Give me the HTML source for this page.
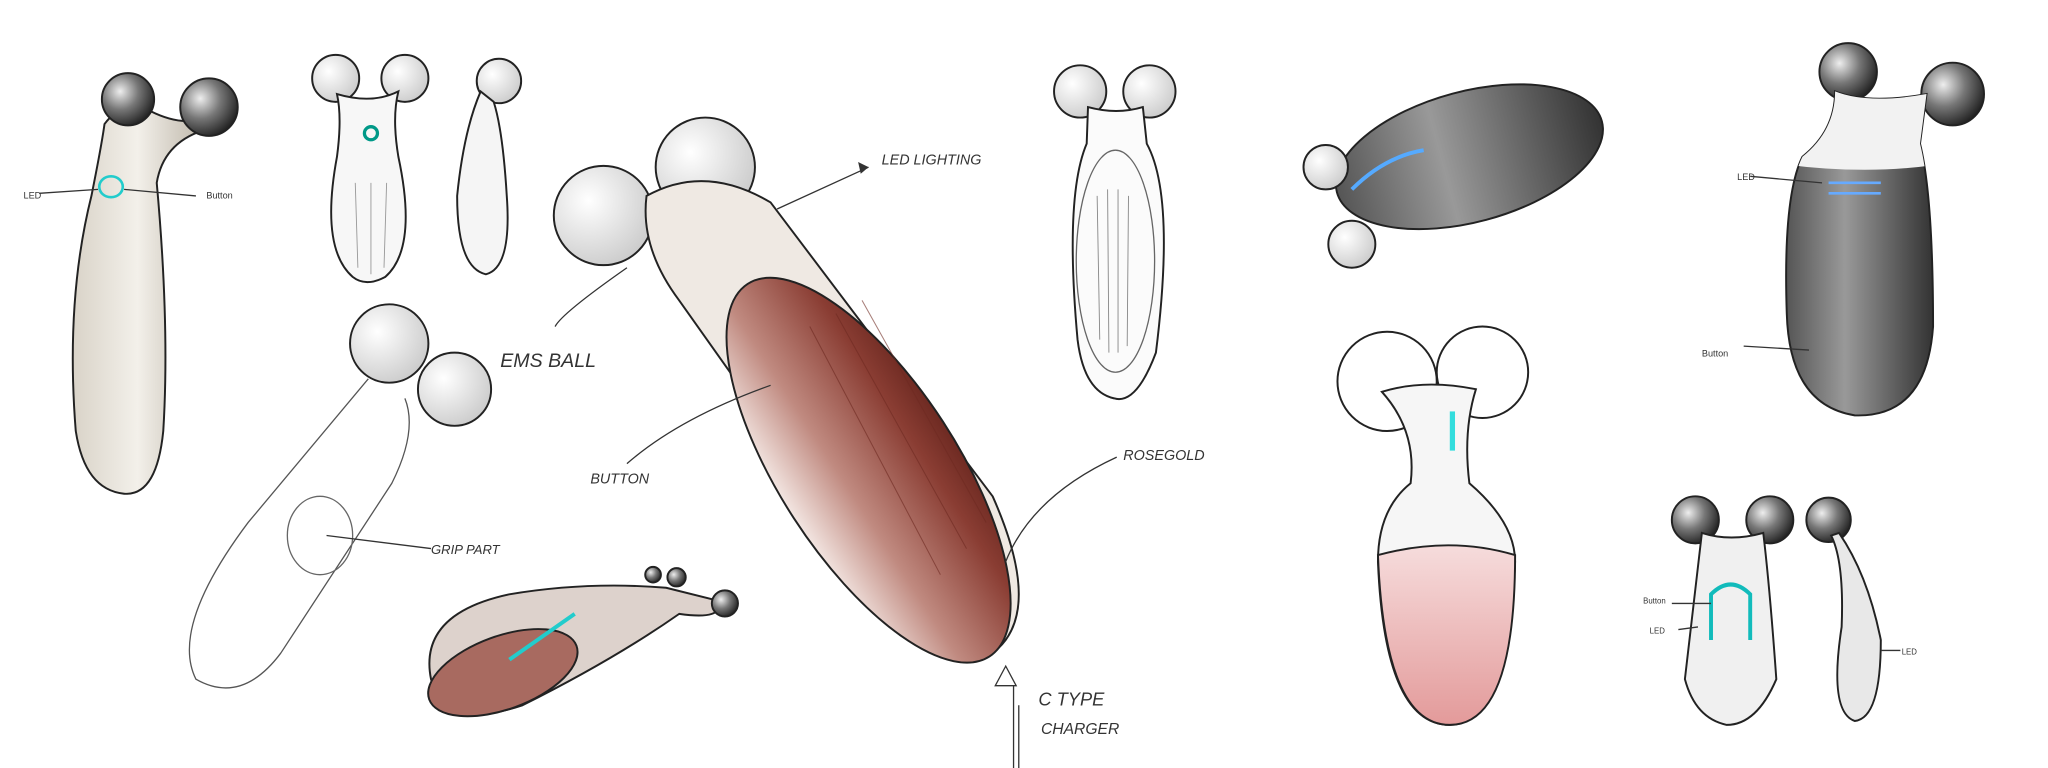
<!DOCTYPE html>
<html><head><meta charset="utf-8"><style>
html,body{margin:0;padding:0;background:#fff;width:2048px;height:768px;overflow:hidden}
svg{display:block}
text{font-family:"Liberation Sans",sans-serif;fill:#333}
</style></head><body>
<svg width="2048" height="768" viewBox="0 0 1568 588" preserveAspectRatio="none">
<defs>
<radialGradient id="ball" cx="35%" cy="35%" r="70%"><stop offset="0" stop-color="#eee"/><stop offset=".5" stop-color="#777"/><stop offset="1" stop-color="#222"/></radialGradient>
<radialGradient id="wball" cx="35%" cy="35%" r="70%"><stop offset="0" stop-color="#fff"/><stop offset="1" stop-color="#ccc"/></radialGradient>
<linearGradient id="rose" x1="0" y1="0" x2="1" y2="0"><stop offset="0" stop-color="#f3e6e2"/><stop offset=".35" stop-color="#c08a80"/><stop offset=".8" stop-color="#8a3d33"/><stop offset="1" stop-color="#6e2a22"/></linearGradient>
<linearGradient id="dark" x1="0" y1="0" x2="1" y2="0"><stop offset="0" stop-color="#555"/><stop offset=".4" stop-color="#999"/><stop offset="1" stop-color="#333"/></linearGradient>
<linearGradient id="pink" x1="0" y1="0" x2="0" y2="1"><stop offset="0" stop-color="#f6dcdc"/><stop offset="1" stop-color="#e39a9a"/></linearGradient>
<linearGradient id="beige" x1="0" y1="0" x2="1" y2="0"><stop offset="0" stop-color="#d9d3c8"/><stop offset=".5" stop-color="#f3f0ea"/><stop offset="1" stop-color="#bfb8ab"/></linearGradient>
<clipPath id="tallclip"><path d="M1405,70 Q1430,80 1475,72 L1470,110 Q1480,150 1480,250 Q1475,320 1420,318 Q1370,310 1368,240 Q1365,150 1380,120 Q1405,100 1405,70Z"/></clipPath>
</defs>
<g stroke="#222" stroke-width="1.5">
<path d="M80,95 Q95,75 115,85 Q135,95 150,92 L155,100 Q125,110 120,140 Q130,250 125,330 Q120,380 95,378 Q65,375 58,330 Q50,230 70,150 Q78,110 80,95Z" fill="url(#beige)"/>
<circle cx="98" cy="76" r="20" fill="url(#ball)"/><circle cx="160" cy="82" r="22" fill="url(#ball)"/>
<ellipse cx="85" cy="143" rx="9" ry="8" fill="none" stroke="#2cc" stroke-width="2"/>
<circle cx="257" cy="60" r="18" fill="url(#wball)"/><circle cx="310" cy="60" r="18" fill="url(#wball)"/>
<path d="M258,72 Q285,80 305,70 Q300,90 305,120 Q320,190 295,212 Q280,220 270,212 Q245,190 258,120 Q262,90 258,72Z" fill="#f7f7f7"/>
<path d="M272,140 L274,205 M284,140 L284,210 M296,140 L294,205" stroke="#999" stroke-width="0.7" fill="none"/>
<circle cx="284" cy="102" r="5" fill="none" stroke="#098" stroke-width="2.5"/>
<circle cx="382" cy="62" r="17" fill="url(#wball)"/>
<path d="M368,70 Q355,100 350,150 Q350,205 372,210 Q392,205 388,150 Q385,100 378,78Z" fill="#f5f5f5"/>
<path d="M282,290 L190,400 Q130,480 150,520 Q185,540 215,500 L300,370 Q320,330 310,305" fill="none" stroke="#555" stroke-width="1"/>
<ellipse cx="245" cy="410" rx="25" ry="30" fill="none" stroke="#666" stroke-width="1"/>
<circle cx="298" cy="263" r="30" fill="url(#wball)"/><circle cx="348" cy="298" r="28" fill="url(#wball)"/>
<circle cx="462" cy="165" r="38" fill="url(#wball)"/><circle cx="540" cy="128" r="38" fill="url(#wball)"/>
<path d="M495,150 Q540,125 590,155 L760,380 Q800,470 760,500 Q720,515 690,470 L520,230 Q490,190 495,150Z" fill="#efe9e3"/>
<ellipse cx="665" cy="360" rx="68" ry="170" transform="rotate(-33 665 360)" fill="url(#rose)"/>
<path d="M640,240 L740,420 M660,230 L755,400 M620,250 L720,440" stroke="#6e2a22" stroke-width="0.8" fill="none" opacity=".6"/>
<path d="M330,520 Q320,470 390,455 Q450,445 510,450 L550,460 Q555,475 520,470 Q470,505 400,540 Q340,560 330,520Z" fill="#ddd2cc"/>
<ellipse cx="385" cy="515" rx="60" ry="28" transform="rotate(-20 385 515)" fill="#a86a60"/>
<path d="M390,505 L440,470" stroke="#2cc" stroke-width="3"/>
<circle cx="500" cy="440" r="6" fill="url(#ball)"/><circle cx="518" cy="442" r="7" fill="url(#ball)"/><circle cx="555" cy="462" r="10" fill="url(#ball)"/>
<circle cx="827" cy="70" r="20" fill="url(#wball)"/><circle cx="880" cy="70" r="20" fill="url(#wball)"/>
<path d="M833,82 Q855,88 875,82 L878,110 Q900,150 885,270 Q870,310 853,305 Q830,300 825,260 Q815,150 832,110Z" fill="#fbfbfb"/>
<ellipse cx="854" cy="200" rx="30" ry="85" fill="none" stroke="#666" stroke-width="1"/>
<path d="M840,150 L842,260 M848,145 L849,270 M856,145 L856,270 M864,150 L863,265" stroke="#888" stroke-width="0.7" fill="none"/>
<ellipse cx="1125" cy="120" rx="105" ry="50" transform="rotate(-15 1125 120)" fill="url(#dark)"/>
<path d="M1035,145 Q1060,120 1090,115" stroke="#5af" stroke-width="3" fill="none"/>
<circle cx="1015" cy="128" r="17" fill="url(#wball)"/><circle cx="1035" cy="187" r="18" fill="url(#wball)"/>
<circle cx="1062" cy="292" r="38" fill="#fff"/><circle cx="1135" cy="285" r="35" fill="#fff"/>
<path d="M1058,300 Q1090,290 1130,298 Q1120,330 1125,370 Q1160,400 1160,430 Q1155,555 1110,555 Q1060,555 1055,430 Q1055,390 1080,370 Q1085,330 1058,300Z" fill="#f6f6f6"/>
<path d="M1055,425 Q1110,410 1160,425 Q1160,555 1110,555 Q1060,555 1055,425Z" fill="url(#pink)"/>
<path d="M1112,315 L1112,345" stroke="#3dd" stroke-width="4"/>
<circle cx="1415" cy="55" r="22" fill="url(#ball)"/><circle cx="1495" cy="72" r="24" fill="url(#ball)"/>
<path d="M1405,70 Q1430,80 1475,72 L1470,110 Q1480,150 1480,250 Q1475,320 1420,318 Q1370,310 1368,240 Q1365,150 1380,120 Q1405,100 1405,70Z" fill="url(#dark)"/>
<g clip-path="url(#tallclip)"><path d="M1360,60 L1490,60 L1490,125 Q1430,135 1360,125Z" fill="#f2f2f2" stroke="none"/></g>
<path d="M1400,140 L1440,140 M1400,148 L1440,148" stroke="#6af" stroke-width="2"/>
<circle cx="1298" cy="398" r="18" fill="url(#ball)"/><circle cx="1355" cy="398" r="18" fill="url(#ball)"/><circle cx="1400" cy="398" r="17" fill="url(#ball)"/>
<path d="M1303,408 Q1325,415 1350,408 Q1355,450 1360,520 Q1345,555 1322,555 Q1298,550 1290,520 Q1298,450 1303,408Z" fill="#f0f0f0"/>
<path d="M1310,490 L1310,455 Q1325,440 1340,455 L1340,490" stroke="#1bb" stroke-width="3" fill="none"/>
<path d="M1408,408 Q1430,440 1440,490 Q1440,550 1420,552 Q1400,545 1410,480 Q1412,430 1402,410Z" fill="#e8e8e8"/>
</g>
<g fill="none" stroke="#333" stroke-width="1">
<path d="M30,148 L75,145"/><path d="M95,145 L150,150"/>
<path d="M480,205 Q430,240 425,250"/><path d="M250,410 L330,420"/>
<path d="M595,160 L665,128"/><path d="M590,295 Q520,320 480,355"/>
<path d="M770,430 Q790,380 855,350"/><path d="M780,540 L780,588 M776,525 L776,588"/>
<path d="M1340,135 L1395,140"/><path d="M1335,265 L1385,268"/>
<path d="M1280,462 L1310,462"/><path d="M1285,482 L1300,480"/><path d="M1440,498 L1455,498"/>
</g>
<g>
<path d="M770,510 L762,525 L778,525Z" fill="none" stroke="#333"/>
<path d="M665,128 L657,124 L659,133Z" fill="#333"/>
<text x="18" y="152" font-size="7">LED</text>
<text x="158" y="152" font-size="7">Button</text>
<text x="383" y="281" font-size="15" font-style="italic">EMS BALL</text>
<text x="330" y="424" font-size="10" font-style="italic">GRIP PART</text>
<text x="675" y="126" font-size="11" font-style="italic">LED LIGHTING</text>
<text x="452" y="370" font-size="11" font-style="italic">BUTTON</text>
<text x="860" y="352" font-size="11" font-style="italic">ROSEGOLD</text>
<text x="795" y="540" font-size="14" font-style="italic">C TYPE</text>
<text x="797" y="562" font-size="12" font-style="italic">CHARGER</text>
<text x="1330" y="138" font-size="7">LED</text>
<text x="1303" y="273" font-size="7">Button</text>
<text x="1258" y="462" font-size="6">Button</text>
<text x="1263" y="485" font-size="6">LED</text>
<text x="1456" y="501" font-size="6">LED</text>
</g>
</svg>
</body></html>
